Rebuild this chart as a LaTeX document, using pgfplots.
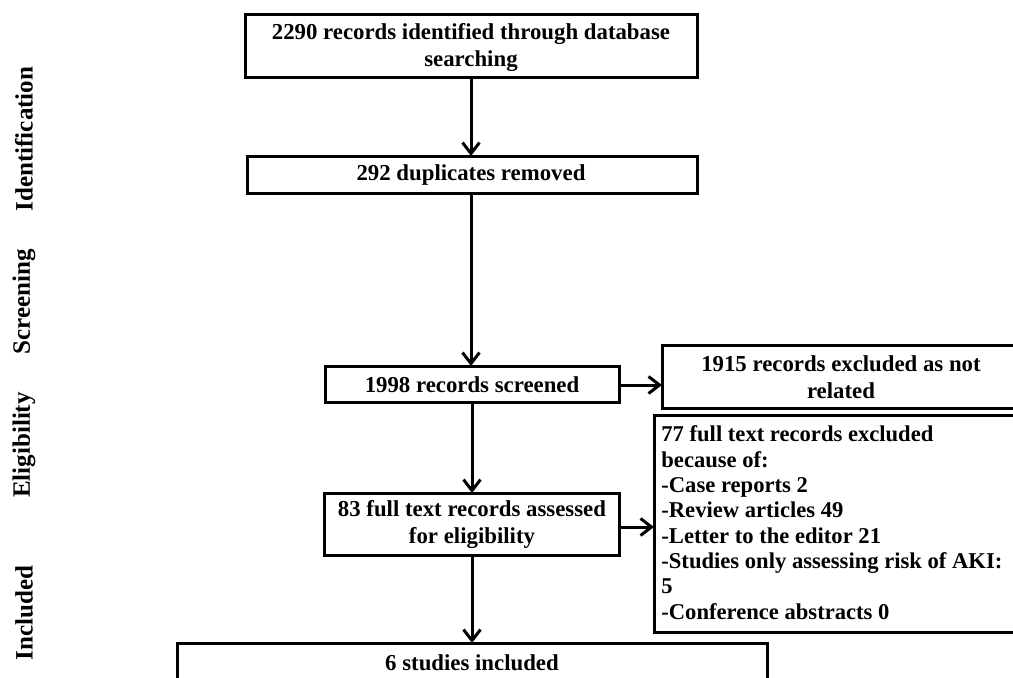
\documentclass[border=0pt]{standalone}
\usepackage{fontspec}
\setmainfont{Liberation Serif}
\usepackage{pgfplots}
\pgfplotsset{compat=1.18}
\usetikzlibrary{arrows.meta}

\begin{document}
\begin{tikzpicture}[
  t/.style={font=\bfseries\fontsize{11.4}{13.5}\selectfont, inner sep=0pt},
  lab/.style={font=\bfseries\fontsize{12.5}{14}\selectfont, inner sep=0pt, rotate=90},
]
\begin{axis}[
  scale only axis, width=506.5pt, height=338.5pt,
  xmin=0, xmax=1013, ymin=0, ymax=677, y dir=reverse,
  hide axis,
  every axis plot/.append style={black, line width=1.5pt, mark=none},
  box/.style={line cap=rect, line join=miter},
  arr/.style={-{Straight Barb[length=5.5pt,width=8.5pt,line width=1.5pt]}},
]
% boxes (pixel coordinates, y downward)
\addplot[box] coordinates {(245,14) (697,14) (697,77) (245,77) (245,14)};
\addplot[box] coordinates {(247,156) (697,156) (697,193) (247,193) (247,156)};
\addplot[box] coordinates {(325,366) (619,366) (619,402) (325,402) (325,366)};
\addplot[box] coordinates {(1030,345) (662,345) (662,408) (1030,408)};
\addplot[box] coordinates {(1030,415) (654,415) (654,632) (1030,632)};
\addplot[box] coordinates {(324,493) (619,493) (619,555) (324,555) (324,493)};
\addplot[box] coordinates {(177,700) (177,643) (767,643) (767,700)};
% arrows
\addplot[arr] coordinates {(471,77) (471,156)};
\addplot[arr] coordinates {(471,193) (471,366)};
\addplot[arr] coordinates {(472,402) (472,493)};
\addplot[arr] coordinates {(472,555) (472,643)};
\addplot[arr] coordinates {(619,385) (662,385)};
\addplot[arr] coordinates {(619,527) (654,527)};
% texts
\node[t, align=center] at (axis cs:471,47) {2290 records identified through database\\searching};
\node[t] at (axis cs:471,175) {292 duplicates removed};
\node[t] at (axis cs:472,385) {1998 records screened};
\node[t, align=center] at (axis cs:841,377) {1915 records excluded as not\\related};
\node[t, align=center] at (axis cs:472,524) {83 full text records assessed\\for eligibility};
\node[t] at (axis cs:472,663) {6 studies included};
\node[t, anchor=base west, align=left, font=\bfseries\fontsize{11.3}{12.65}\selectfont]
  at (axis cs:661,619) {77 full text records excluded\\because of:\\-Case reports 2\\-Review articles 49\\-Letter to the editor 21\\-Studies only assessing risk of AKI:\\5\\-Conference abstracts 0};
% phase labels
\node[lab] at (axis cs:24,139) {Identification};
\node[lab] at (axis cs:24,302) {Screening};
\node[lab] at (axis cs:24,445) {Eligibility};
\node[lab] at (axis cs:24,613) {Included};
\end{axis}
\path (current axis.south west) (current axis.north east);
\end{tikzpicture}
\end{document}
